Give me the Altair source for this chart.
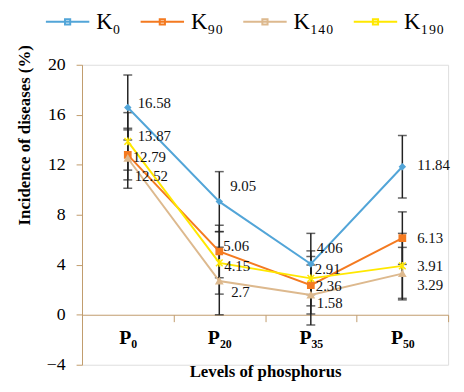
import altair as alt
import pandas as pd

P_LABELS = ["P₀", "P₂₀", "P₃₅", "P₅₀"]
SERIES = ["K₀", "K₉₀", "K₁₄₀", "K₁₉₀"]
K0 = [16.58, 9.05, 4.06, 11.84]
K90 = [12.79, 5.06, 2.36, 6.13]
K140 = [12.52, 2.7, 1.58, 3.29]
K190 = [13.87, 4.15, 2.91, 3.91]
ERR_K0 = [2.6, 2.4, 2.45, 2.5]
ERR_K90 = [2.0, 2.1, 2.3, 2.1]
ERR_K140 = [2.4, 2.7, 2.4, 2.1]
ERR_K190 = [2.3, 2.5, 2.2, 2.6]
Y_TICKS = [-4, 0, 4, 8, 12, 16, 20]

COLORS = ["#52A5D8", "#F47A20", "#DDB98E", "#FFE800"]
AXIS_COLOR = "#C09B6C"
SERIF = "'Liberation Serif', 'Times New Roman', Times, serif"

rows = []
for s, vals, errs in zip(SERIES, [K0, K90, K140, K190],
                         [ERR_K0, ERR_K90, ERR_K140, ERR_K190]):
    for p, v, e in zip(P_LABELS, vals, errs):
        rows.append({"series": s, "P": p, "value": v, "lo": v - e, "hi": v + e,
                     "label": f"{v:g}"})
df = pd.DataFrame(rows)

W, H = 371, 304
x_axis = alt.Axis(
    title="Levels of phosphorus", labelAngle=0, grid=False,
    domainColor=AXIS_COLOR, tickColor=AXIS_COLOR, tickSize=7, tickBand="extent",
    labelFont=SERIF, labelFontWeight="bold", labelFontSize=20, labelColor="#000",
    labelPadding=6, offset=-H * 4 / 24,
    titleFont=SERIF, titleFontWeight="bold", titleFontSize=17, titleColor="#000",
    titleY=63, titleBaseline="alphabetic",
)
y_axis = alt.Axis(
    title="Incidence of diseases (%)", values=Y_TICKS, grid=False,
    domainColor=AXIS_COLOR, tickColor=AXIS_COLOR, tickSize=6,
    labelFont=SERIF, labelFontSize=18, labelColor="#000", labelPadding=11,
    titleFont=SERIF, titleFontWeight="bold", titleFontSize=17, titleColor="#000",
    titleX=-58, titleY=71, titleAlign="center", titleBaseline="middle",
)
x = alt.X("P:N", sort=P_LABELS,
          scale=alt.Scale(type="band", domain=P_LABELS, paddingInner=0, paddingOuter=0),
          axis=x_axis)
y_scale = alt.Scale(domain=[-4, 20], nice=False, zero=False)
color_scale = alt.Scale(domain=SERIES, range=COLORS)

base = alt.Chart(df)

err_rule = base.mark_rule(color="#222", strokeWidth=1.5).encode(
    x=x, y=alt.Y("lo:Q", scale=y_scale, axis=y_axis), y2="hi:Q")
cap_lo = base.mark_tick(color="#222", size=9, thickness=1.5).encode(
    x=x, y=alt.Y("lo:Q", scale=y_scale))
cap_hi = base.mark_tick(color="#222", size=9, thickness=1.5).encode(
    x=x, y=alt.Y("hi:Q", scale=y_scale))

legend = alt.Legend(
    title=None, orient="none", direction="horizontal",
    legendX=-37.6, legendY=-66.5,
    symbolType="M-1,0L1,0M-0.12,-0.12L0.12,-0.12L0.12,0.12L-0.12,0.12Z",
    symbolSize=1936, symbolStrokeWidth=2,
    labelFont=SERIF, labelFontSize=23, labelColor="#000", labelOffset=6,
    columnPadding=16,
)

lines = base.mark_line(strokeWidth=2).encode(
    x=x, y=alt.Y("value:Q", scale=y_scale),
    color=alt.Color("series:N", scale=color_scale, sort=SERIES, legend=legend),
)

STAR = "M-1,-1L1,1M-1,1L1,-1M0,-1.2L0,1.2"
SHAPES = ["diamond", "square", "triangle-up", STAR]
SIZES = [30, 40, 40, 45]
point_layers = []
for s, c, shp, sz in zip(SERIES, COLORS, SHAPES, SIZES):
    point_layers.append(
        base.transform_filter(alt.datum.series == s)
        .mark_point(filled=True, shape=shp, size=sz, color=c, stroke=c,
                    strokeWidth=1.5, opacity=1)
        .encode(x=x, y=alt.Y("value:Q", scale=y_scale))
    )

# label nudges (dx, dy) per series for each phosphorus level
NUDGE = {
    ("K₀", "P₀"): (10, -5), ("K₉₀", "P₀"): (5, 2), ("K₁₄₀", "P₀"): (7, 18), ("K₁₉₀", "P₀"): (10, -5),
    ("K₀", "P₂₀"): (11, -16), ("K₉₀", "P₂₀"): (4, -5), ("K₁₄₀", "P₂₀"): (12, 11), ("K₁₉₀", "P₂₀"): (5, 3),
    ("K₀", "P₃₅"): (6, -16), ("K₉₀", "P₃₅"): (5, 1), ("K₁₄₀", "P₃₅"): (6, 8), ("K₁₉₀", "P₃₅"): (4, -9),
    ("K₀", "P₅₀"): (15, -2), ("K₉₀", "P₅₀"): (15, 0), ("K₁₄₀", "P₅₀"): (15, 12), ("K₁₉₀", "P₅₀"): (15, 0),
}
texts = []
for (s, p), (dx, dy) in NUDGE.items():
    texts.append(
        base.transform_filter((alt.datum.series == s) & (alt.datum.P == p))
        .mark_text(font=SERIF, fontSize=15, color="#111", align="left",
                   baseline="middle", dx=dx, dy=dy)
        .encode(x=x, y=alt.Y("value:Q", scale=y_scale), text="label:N")
    )

chart = alt.layer(err_rule, cap_lo, cap_hi, lines, *point_layers, *texts).properties(
    width=W, height=H,
    autosize=alt.AutoSizeParams(type="none"),
    padding={"left": 75, "top": 55, "right": 8, "bottom": 17},
).configure_view(stroke=None).configure(background="white")

chart.save("out.html", embed_options={"renderer": "svg", "actions": False})
